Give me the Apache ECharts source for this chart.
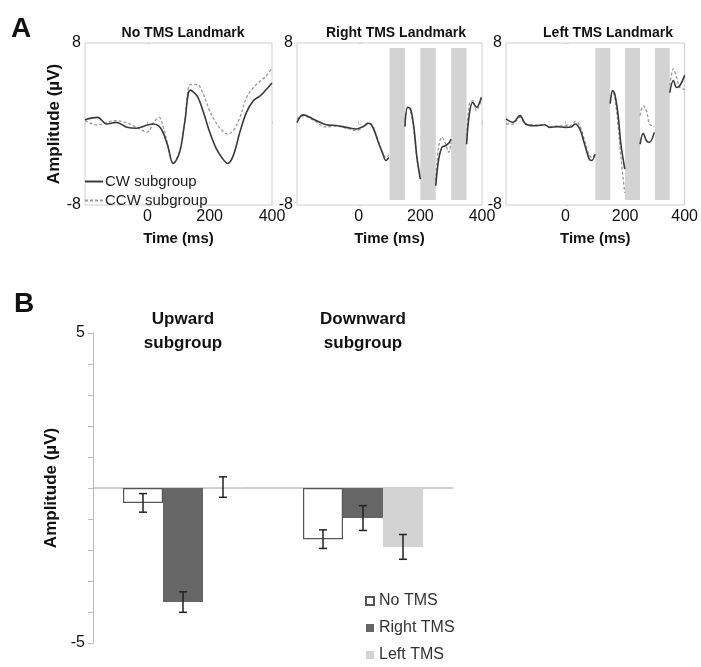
<!DOCTYPE html>
<html>
<head>
<meta charset="utf-8">
<script src="https://cdn.jsdelivr.net/npm/echarts@6/dist/echarts.min.js"></script>
<style>
    html, body { margin: 0; padding: 0; background: #fff; }
    #picture { width: 701px; height: 667px; }
</style>
</head>
<body>
<div id="picture"></div>
<script>
// panel A: ERP waveforms (time in ms, amplitude in uV), null = TMS gap
var panelTitles = ['No TMS Landmark', 'Right TMS Landmark', 'Left TMS Landmark'];
var lineNames = ['CW subgroup', 'CCW subgroup'];

var timeNoTms = [-200, -160, -130, -100, -65, -35, 0, 20, 38, 50, 65, 83, 104, 120, 138, 160, 180, 200, 220, 240, 258, 276, 297, 318, 340, 361, 380, 400];
var cwNoTms = [0.42, 0.65, 0, 0.16, -0.33, -0.42, -0.1, 0, -0.23, -0.8, -2.1, -3.9, -2.75, 0.16, 3.35, 2.75, 1.15, -0.8, -2.35, -3.35, -3.9, -3.1, -0.8, 1.15, 2.3, 2.75, 3.35, 4.05];
var ccwNoTms = [0.33, -0.1, 0.16, 0.33, 0.1, -0.33, -0.8, 0.16, 0.65, -0.16, -1.95, -3.9, -2.6, 0.16, 3.9, 3.9, 2.9, 1.3, 0.16, -0.65, -1.0, -0.65, 0.65, 2.6, 3.6, 4.2, 4.7, 5.5];

var timeRight = [-200, -180, -148, -105, -73, -40, -8, 14, 32, 46, 62, 79, 88, 98, 125, 150, 159, 168, 179, 189, 200, 225, 250, 259, 270, 281, 292, 300, 325, 350, 359, 370, 382, 398];
var cwRight = [0.15, 0.9, 0.5, -0.07, -0.15, -0.33, -0.5, -0.26, 0.07, -0.33, -1.65, -3.0, -3.6, -3.3, null, -0.26, 1.65, 1.5, -0.33, -3.3, -5.45, null, -6.1, -3.6, -2.3, -2.15, -1.9, -1.5, null, -2.0, 1.0, 2.15, 1.65, 2.65];
var ccwRight = [0.5, 0.8, 0.4, -0.3, -0.2, -0.4, -0.65, -0.3, 0.15, -0.2, -1.5, -2.9, -3.3, -3.05, null, 0.33, 1.7, 1.3, -0.66, -3.5, -5.1, null, -5.6, -2.3, -1.3, -1.9, -2.8, -1.8, null, -1.65, 2.0, 2.3, 1.3, 2.5];

var timeLeft = [-200, -177, -153, -134, -102, -70, -54, -27, 0, 21, 32, 48, 64, 80, 88, 99, 125, 150, 158, 165, 176, 186, 199, 225, 250, 261, 272, 282, 298, 325, 350, 362, 373, 384, 400];
var cwLeft = [0.5, 0.17, 0.83, 0, -0.17, -0.07, -0.33, -0.26, -0.33, -0.26, 0, -0.5, -2.0, -3.5, -3.6, -3.0, null, 2.0, 3.3, 3.0, 1.0, -2.0, -4.45, null, -2.0, -0.93, -1.65, -1.8, -0.83, null, 3.1, 4.3, 3.6, 3.8, 4.8];
var ccwLeft = [0, 0, 0.66, 0, -0.1, -0.1, -0.25, -0.2, -0.17, -0.1, 0.26, -0.17, -1.65, -3.1, -3.3, -3.0, null, 2.15, 3.1, 2.65, 0, -3.3, -6.8, null, 0.83, 1.8, 1.3, 0, -0.26, null, 3.8, 5.45, 4.6, 3.6, 3.4];

// TMS pulse windows (ms) and shaded extent (uV)
var tmsWindows = [[100, 150], [200, 250], [300, 350]];
var shadeExtent = 7.5;

// panel B: mean amplitude with error
var groups = ['Upward\nsubgroup', 'Downward\nsubgroup'];
var conditions = ['No TMS', 'Right TMS', 'Left TMS'];
var noTmsMean = [-0.48, -1.65];
var rightTmsMean = [-3.68, -0.97];
var leftTmsMean = [0.03, -1.9];
var noTmsErr = [0.3, 0.3];
var rightTmsErr = [0.33, 0.4];
var leftTmsErr = [0.33, 0.4];

var myChart = echarts.init(document.getElementById('picture'));
var font = 'Liberation Sans, Arial, sans-serif';

function pairs(t, v) {
    return t.map(function(x, i) {
        return [x, v[i] === null ? '-' : v[i]];
    });
}

var waves = [
    [timeNoTms, cwNoTms, ccwNoTms],
    [timeRight, cwRight, ccwRight],
    [timeLeft, cwLeft, ccwLeft]
];

var gridsA = [
    { left: 85, top: 43, width: 187, height: 162 },
    { left: 297, top: 43, width: 185, height: 162 },
    { left: 506, top: 43, width: 187, height: 162 }
];
var titleX = [178, 391, 603];

var grid = [], xAxis = [], yAxis = [], series = [], title = [];

gridsA.forEach(function(g, i) {
    grid.push({
        left: g.left, top: g.top, width: g.width, height: g.height,
        show: true, borderColor: '#cfcfcf', borderWidth: 1
    });
    title.push({
        text: panelTitles[i], left: titleX[i], top: 21, textAlign: 'center',
        textStyle: { fontFamily: font, fontSize: 14, fontWeight: 'bold', color: '#111' }
    });
    xAxis.push({
        type: 'value', gridIndex: i, min: -200, max: 400, interval: 200,
        name: 'Time (ms)', nameLocation: 'middle', nameGap: 26,
        nameTextStyle: { fontFamily: font, fontSize: 15, fontWeight: 'bold', color: '#111' },
        axisLine: { show: false },
        axisTick: { inside: true, length: 3, lineStyle: { color: '#cfcfcf' } },
        splitLine: { show: false },
        axisLabel: {
            margin: 4, fontFamily: font, fontSize: 16, color: '#111',
            formatter: function(v) { return v === -200 ? '' : v; }
        }
    });
    yAxis.push({
        type: 'value', gridIndex: i, min: -8, max: 8, interval: 8,
        name: i === 0 ? 'Amplitude (\u00b5V)' : '', nameLocation: 'middle', nameGap: 16,
        nameTextStyle: { fontFamily: font, fontSize: 17, fontWeight: 'bold', color: '#111' },
        axisLine: { show: false },
        axisTick: { inside: true, length: 3, lineStyle: { color: '#cfcfcf' } },
        splitLine: { show: false },
        axisLabel: {
            margin: 4, fontFamily: font, fontSize: 16, color: '#111',
            formatter: function(v) { return v === 0 ? '' : v; }
        }
    });
    var w = waves[i];
    series.push({
        name: lineNames[0], type: 'line', xAxisIndex: i, yAxisIndex: i,
        data: pairs(w[0], w[1]), showSymbol: false, symbol: 'none', smooth: 0.35,
        connectNulls: false, z: 4,
        lineStyle: { color: '#3a3a3a', width: 1.6 },
        itemStyle: { color: '#3a3a3a' },
        markArea: i === 0 ? undefined : {
            silent: true,
            itemStyle: { color: '#d3d3d3', opacity: 1 },
            data: tmsWindows.map(function(win) {
                return [{ xAxis: win[0], yAxis: -shadeExtent }, { xAxis: win[1], yAxis: shadeExtent }];
            })
        }
    });
    series.push({
        name: lineNames[1], type: 'line', xAxisIndex: i, yAxisIndex: i,
        data: pairs(w[0], w[2]), showSymbol: false, symbol: 'none', smooth: 0.35,
        connectNulls: false, z: 3,
        lineStyle: { color: '#9a9a9a', width: 1.3, type: [3, 2] },
        itemStyle: { color: '#9a9a9a' }
    });
});

// panel B
grid.push({ left: 93, top: 333, width: 360, height: 310 });
xAxis.push({
    type: 'category', gridIndex: 3, data: groups,
    axisLine: { onZero: true, lineStyle: { color: '#bdbdbd', width: 1.5 } },
    axisTick: { length: 4, lineStyle: { color: '#bdbdbd' } },
    axisLabel: { show: false }
});
xAxis.push({
    type: 'category', gridIndex: 3, data: groups, position: 'top',
    axisLine: { show: false }, axisTick: { show: false },
    axisLabel: {
        margin: -22, fontFamily: font, fontSize: 17, fontWeight: 'bold',
        color: '#111', lineHeight: 24
    }
});
yAxis.push({
    type: 'value', gridIndex: 3, min: -5, max: 5, interval: 1,
    name: 'Amplitude (\u00b5V)', nameLocation: 'middle', nameGap: 24,
    nameTextStyle: { fontFamily: font, fontSize: 17, fontWeight: 'bold', color: '#111' },
    axisLine: { show: true, lineStyle: { color: '#bdbdbd' } },
    axisTick: { show: true, length: 5, lineStyle: { color: '#bdbdbd' } },
    splitLine: { show: false },
    axisLabel: {
        margin: 8, fontFamily: font, fontSize: 16, color: '#111',
        formatter: function(v) { return (v === 5 || v === -5) ? v : ''; }
    }
});

var barWidth = 40;
var means = [noTmsMean, rightTmsMean, leftTmsMean];
var errs = [noTmsErr, rightTmsErr, leftTmsErr];
var barStyles = [
    { color: '#ffffff', borderColor: '#555', borderWidth: 1.2 },
    { color: '#666666' },
    { color: '#d3d3d3' }
];
conditions.forEach(function(c, k) {
    series.push({
        name: c, type: 'bar', xAxisIndex: 3, yAxisIndex: 3,
        data: means[k], barWidth: barWidth, barGap: '0%',
        itemStyle: barStyles[k]
    });
});

var errData = [];
conditions.forEach(function(c, k) {
    groups.forEach(function(g, j) {
        errData.push([j, means[k][j], errs[k][j], k]);
    });
});
series.push({
    type: 'custom', xAxisIndex: 3, yAxisIndex: 3, z: 6, silent: true,
    data: errData,
    renderItem: function(params, api) {
        var off = (api.value(3) - 1) * barWidth;
        var hi = api.coord([api.value(0), api.value(1) + api.value(2)]);
        var lo = api.coord([api.value(0), api.value(1) - api.value(2)]);
        var x = hi[0] + off, cap = 4;
        var st = { stroke: '#222', lineWidth: 1.5, fill: null };
        return {
            type: 'group',
            children: [
                { type: 'line', shape: { x1: x, y1: hi[1], x2: x, y2: lo[1] }, style: st },
                { type: 'line', shape: { x1: x - cap, y1: hi[1], x2: x + cap, y2: hi[1] }, style: st },
                { type: 'line', shape: { x1: x - cap, y1: lo[1], x2: x + cap, y2: lo[1] }, style: st }
            ]
        };
    }
});

var option = {
    backgroundColor: '#fff',
    animation: false,
    title: title,
    grid: grid,
    xAxis: xAxis,
    yAxis: yAxis,
    legend: [{
        data: lineNames, orient: 'vertical', left: 84, top: 174, padding: 0,
        itemWidth: 18, itemHeight: 10, itemGap: 4,
        itemStyle: { opacity: 0 },
        textStyle: { fontFamily: font, fontSize: 15, color: '#222', padding: [0, 0, 0, -3] }
    }, {
        data: conditions, orient: 'vertical', left: 365, top: 593, height: 74, padding: 0,
        icon: 'rect', itemWidth: 8, itemHeight: 8, itemGap: 11,
        textStyle: { fontFamily: font, fontSize: 16, color: '#333' }
    }],
    graphic: [
        { type: 'text', left: 11, top: 15, style: { text: 'A', fontFamily: font, fontSize: 28, fontWeight: 'bold', fill: '#111' } },
        { type: 'text', left: 14, top: 290, style: { text: 'B', fontFamily: font, fontSize: 28, fontWeight: 'bold', fill: '#111' } }
    ],
    series: series
};
myChart.setOption(option);

window.onresize = function() {
    myChart.resize();
};
</script>
</body>
</html>
